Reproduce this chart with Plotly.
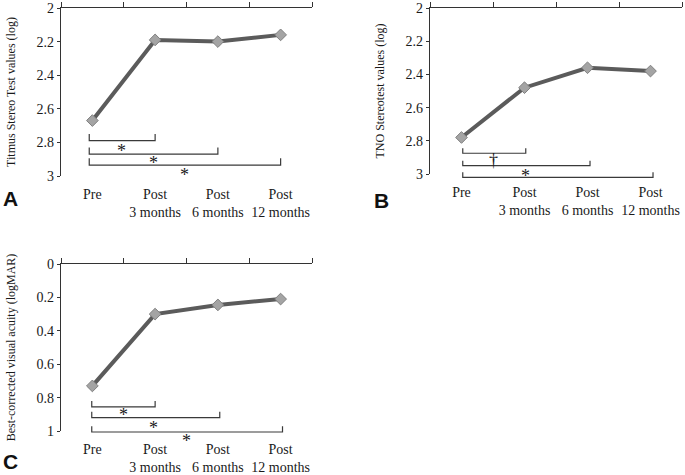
import plotly.graph_objects as go
import numpy as np

# ---- data ----
categories = ["Pre", "Post<br>3 months", "Post<br>6 months", "Post<br>12 months"]
titmus = [2.67, 2.19, 2.20, 2.16]
tno = [2.78, 2.48, 2.36, 2.38]
bcva = [0.73, 0.30, 0.245, 0.21]

titmus_ticks = [2, 2.2, 2.4, 2.6, 2.8, 3]
titmus_ticktext = ["2", "2.2", "2.4", "2.6", "2.8", "3"]
bcva_ticks = [0, 0.2, 0.4, 0.6, 0.8, 1]
bcva_ticktext = ["0", "0.2", "0.4", "0.6", "0.8", "1"]

titmus_sig = ["*", "*", "*"]
tno_sig = ["†", "*", "*"]
bcva_sig = ["*", "*", "*"]

SERIF = "Liberation Serif, Times New Roman, serif"
SANS = "Liberation Sans, Arial, sans-serif"
LINE_COL = "#5b5b5b"
BR_COL = "#3a3a3a"
AX_COL = "#333333"
TXT_COL = "#1a1a1a"

W, H = 685, 475
xpos = np.arange(len(categories))
EXT_PX = 14  # extra room below the visible axis so brackets are not clipped

panels = [
    dict(vals=titmus, ticks=titmus_ticks, ticktext=titmus_ticktext, rng=[3, 2],
         title="Titmus Stereo Test values (log)", sig=titmus_sig,
         xpx=(61, 312), ypx=(8, 176), letter="A", letter_px=(10, 198),
         br_start=-0.05, br_ends=[1, 2, 3], br_y=[2.79, 2.87, 2.935], tip=0.04,
         sym_x=[0.47, 0.97, 1.47], sym_y=[2.85, 2.92, 2.995]),
    dict(vals=tno, ticks=titmus_ticks, ticktext=titmus_ticktext, rng=[3, 2],
         title="TNO Stereotest values (log)", sig=tno_sig,
         xpx=(430, 682), ypx=(8, 174), letter="B", letter_px=(381, 200),
         br_start=0.02, br_ends=[1.02, 2.04, 3.04], br_y=[2.875, 2.95, 3.02], tip=0.03,
         sym_x=[0.5, 1.01, 1.52], sym_y=[2.915, 3.01, 3.09]),
    dict(vals=bcva, ticks=bcva_ticks, ticktext=bcva_ticktext, rng=[1, 0],
         title="Best-corrected visual acuity (logMAR)", sig=bcva_sig,
         xpx=(61, 312), ypx=(264, 431), letter="C", letter_px=(10, 461),
         br_start=-0.01, br_ends=[1, 2.03, 3.03], br_y=[0.856, 0.92, 1.006], tip=0.035,
         sym_x=[0.49, 0.98, 1.5], sym_y=[0.905, 0.98, 1.06]),
]

fig = go.Figure()
layout = dict(template="none", width=W, height=H,
              margin=dict(l=0, r=0, t=0, b=0, pad=0, autoexpand=False),
              paper_bgcolor="white", plot_bgcolor="rgba(0,0,0,0)", showlegend=False,
              annotations=[])

for i, p in enumerate(panels):
    n_xa, n_xb = 2 * i + 1, 2 * i + 2
    n_yd, n_yv = 2 * i + 1, 2 * i + 2
    xa = "x" if n_xa == 1 else f"x{n_xa}"
    xb = f"x{n_xb}"
    yd = "y" if n_yd == 1 else f"y{n_yd}"
    yv = f"y{n_yv}"
    key = lambda s: s[0] + "axis" + s[1:]

    dx = [p["xpx"][0] / W, p["xpx"][1] / W]
    dy = [1 - p["ypx"][1] / H, 1 - p["ypx"][0] / H]
    px_per_unit = (p["ypx"][1] - p["ypx"][0]) / abs(p["rng"][0] - p["rng"][1])
    dy_ext = [1 - (p["ypx"][1] + EXT_PX) / H, dy[1]]
    rng_ext = [p["rng"][0] + EXT_PX / px_per_unit, p["rng"][1]]

    layout[key(xa)] = dict(domain=dx, range=[-0.5, 3.5], anchor=yv, side="bottom",
                           showline=False, showgrid=False, zeroline=False, ticks="",
                           tickvals=list(xpos), ticktext=categories, automargin=False,
                           tickfont=dict(family=SERIF, size=14, color=TXT_COL),
                           ticklabelstandoff=8)
    layout[key(yd)] = dict(domain=dy_ext, range=rng_ext, anchor=xa, visible=False,
                           automargin=False)
    layout[key(xb)] = dict(domain=dx, range=[-0.5, 3.5], anchor=yv, side="top",
                           showline=True, linecolor=AX_COL, linewidth=1.3,
                           showgrid=False, zeroline=False, ticks="outside", ticklen=5,
                           tickcolor=AX_COL, tickwidth=1.3, automargin=False,
                           tickvals=[-0.5, 0.5, 1.5, 2.5, 3.5], showticklabels=False)
    layout[key(yv)] = dict(domain=dy, range=p["rng"], anchor=xb, showline=True,
                           linecolor=AX_COL, linewidth=1.3, showgrid=False, zeroline=False,
                           ticks="outside", ticklen=3, tickcolor=AX_COL, tickwidth=1.3,
                           tickvals=p["ticks"], ticktext=p["ticktext"], automargin=False,
                           tickfont=dict(family=SERIF, size=14, color=TXT_COL),
                           title=dict(text=p["title"], standoff=18,
                                      font=dict(family=SERIF, size=12, color=TXT_COL)))

    fig.add_trace(go.Scatter(x=[0], y=[p["rng"][1]], xaxis=xb, yaxis=yv, mode="markers",
                             marker=dict(opacity=0), hoverinfo="skip"))
    fig.add_trace(go.Scatter(x=xpos, y=p["vals"], xaxis=xa, yaxis=yd, mode="lines+markers",
                             line=dict(color=LINE_COL, width=4),
                             marker=dict(symbol="diamond", size=9, color="#a4a4a4",
                                         line=dict(color="#808080", width=1)),
                             cliponaxis=False))
    for k, end in enumerate(p["br_ends"]):
        yl = p["br_y"][k]
        fig.add_trace(go.Scatter(x=[p["br_start"], p["br_start"], end, end],
                                 y=[yl - p["tip"], yl, yl, yl - p["tip"]],
                                 xaxis=xa, yaxis=yd, mode="lines",
                                 line=dict(color=BR_COL, width=1.2), cliponaxis=False,
                                 hoverinfo="skip"))
        layout["annotations"].append(dict(x=p["sym_x"][k], y=p["sym_y"][k], xref=xa, yref=yd,
                                          text=p["sig"][k], showarrow=False,
                                          xanchor="center", yanchor="middle",
                                          font=dict(family=SERIF, size=18, color=TXT_COL)))
    layout["annotations"].append(dict(x=p["letter_px"][0] / W, y=1 - p["letter_px"][1] / H,
                                      xref="paper", yref="paper", text=f"<b>{p['letter']}</b>",
                                      showarrow=False, xanchor="center", yanchor="middle",
                                      font=dict(family=SANS, size=21, color="#111")))

fig.update_layout(**layout)
fig.write_html("out.html", config={"displayModeBar": False},
               post_script="document.body.style.margin='0';")
